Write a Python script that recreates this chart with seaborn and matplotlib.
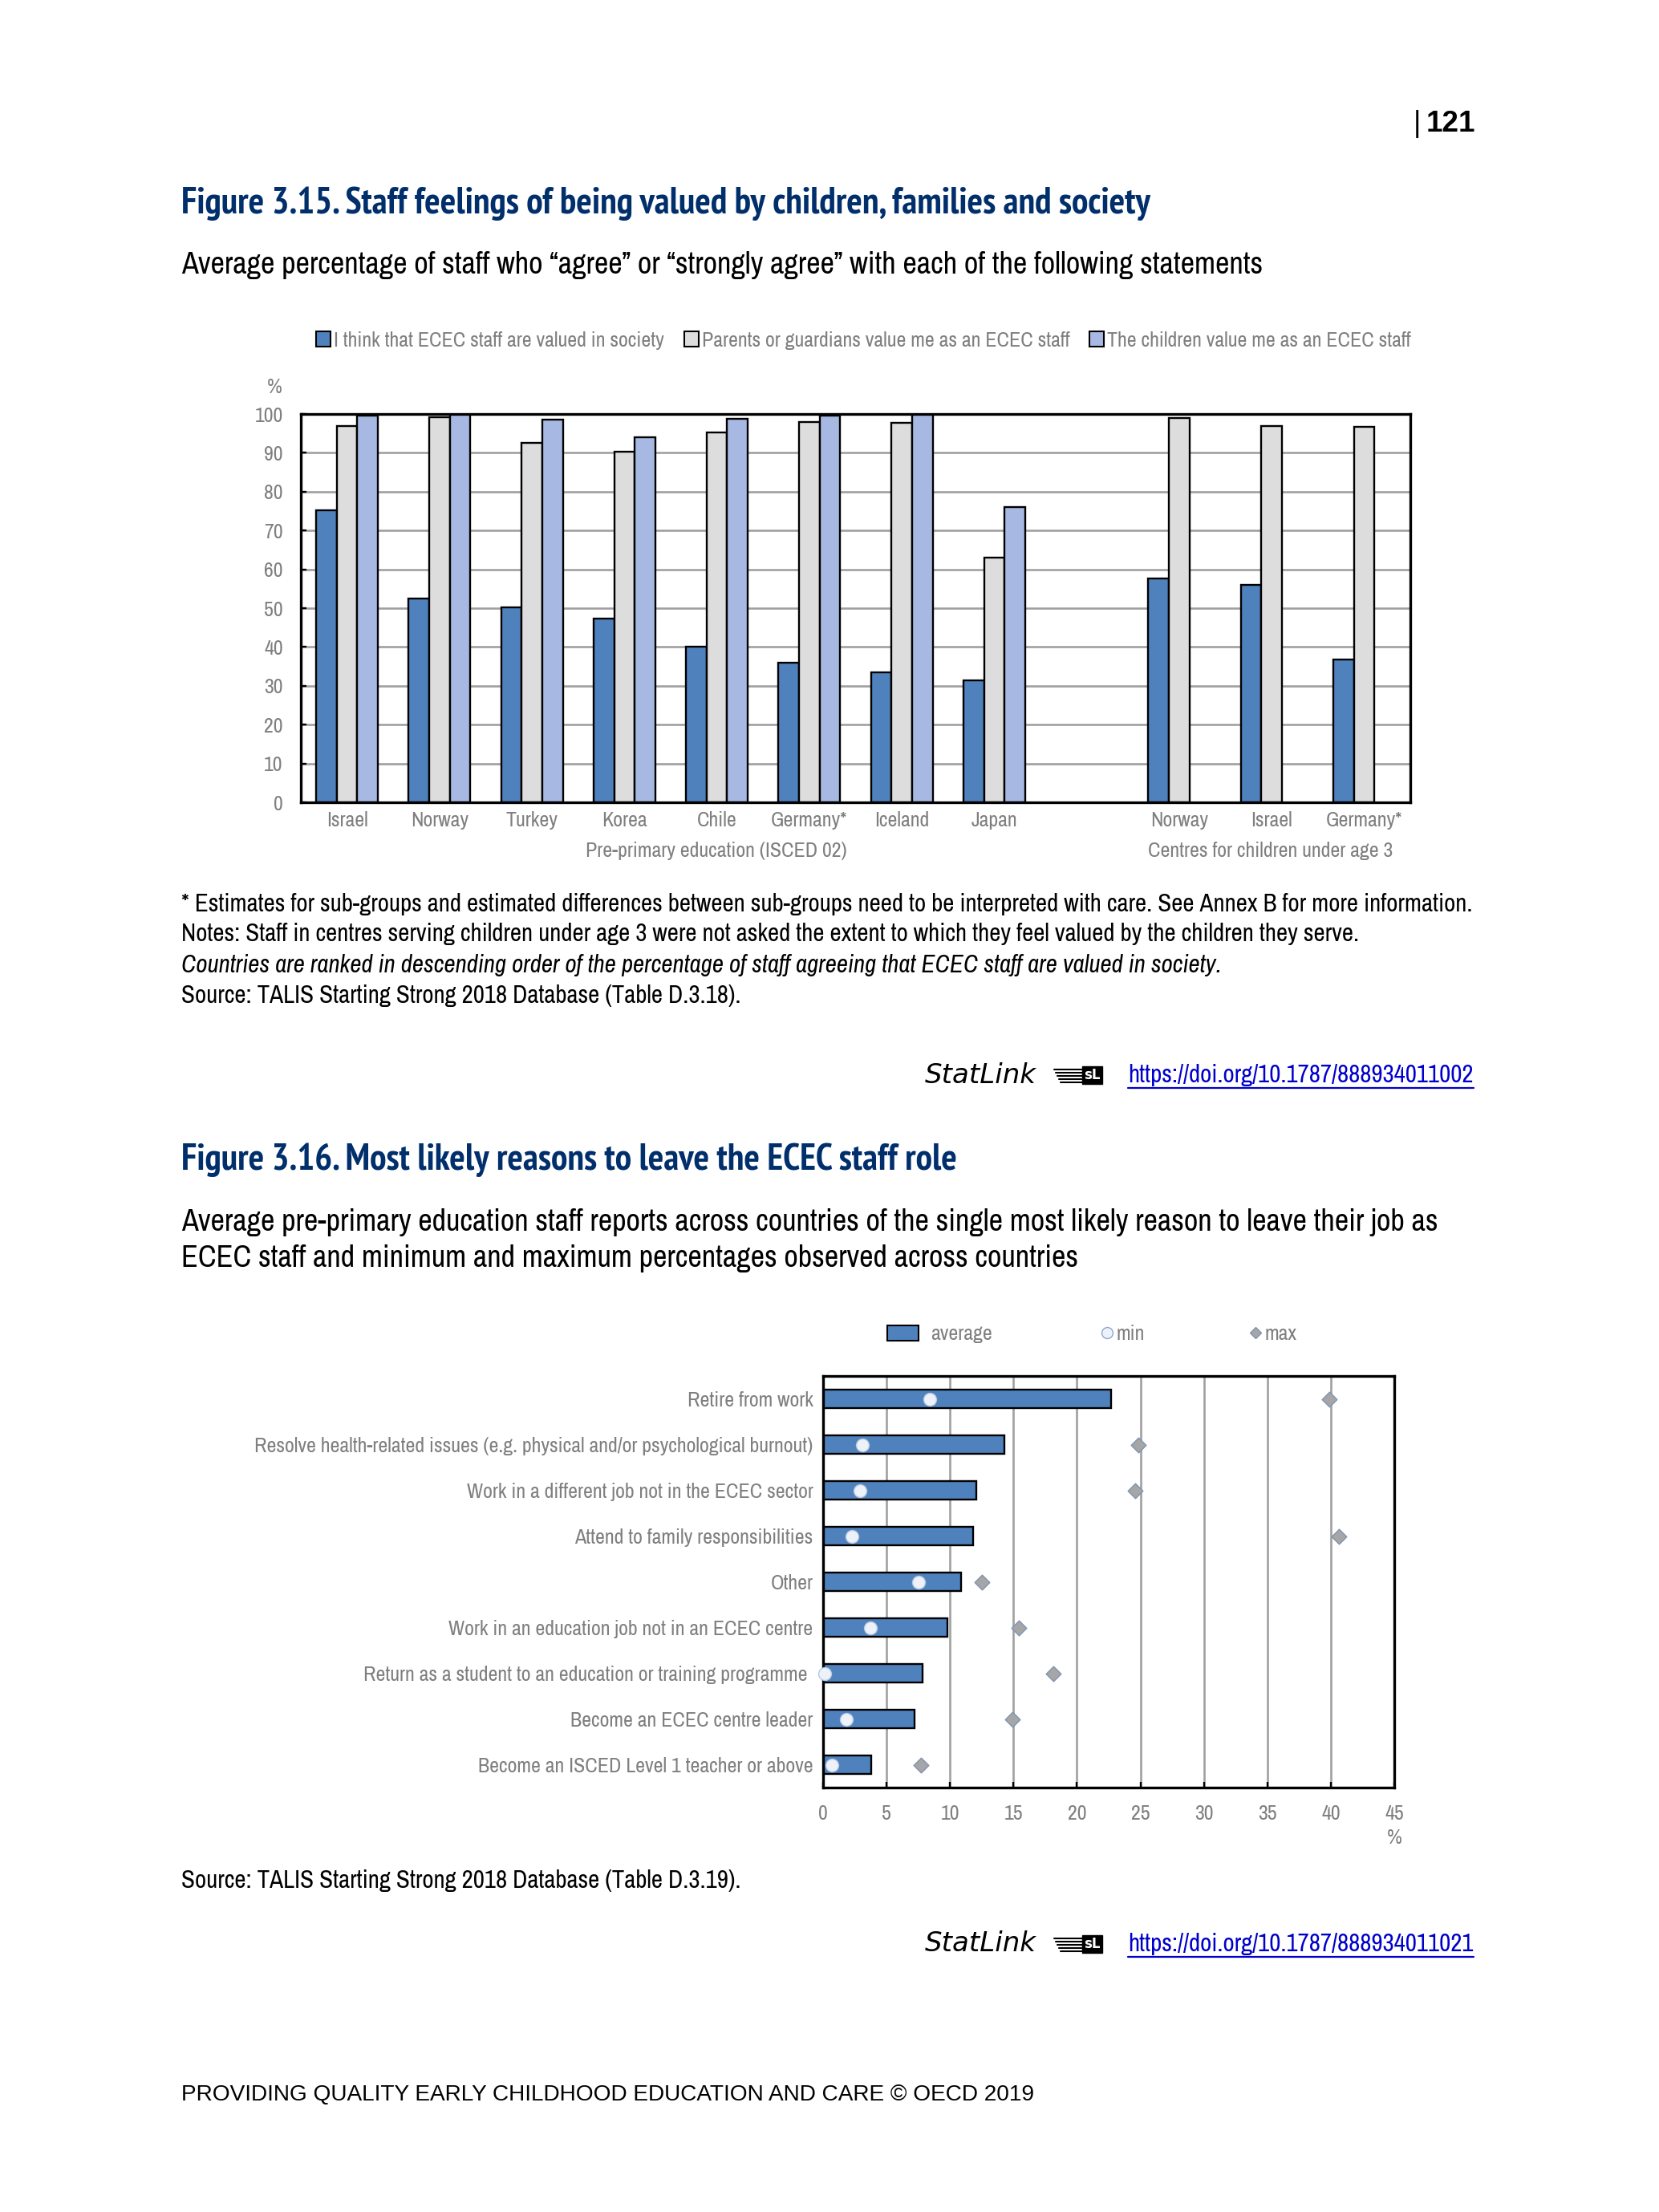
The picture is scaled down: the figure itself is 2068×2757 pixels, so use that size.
import pandas as pd
import matplotlib.pyplot as plt
import seaborn as sns
from matplotlib.lines import Line2D
from matplotlib.patches import Patch

W, H = 2068, 2757

# figure 3.15
levels = ["pre"] * 8 + ["gap"] + ["u3"] * 3
countries = ["Israel", "Norway", "Turkey", "Korea", "Chile", "Germany*", "Iceland", "Japan",
             "", "Norway", "Israel", "Germany*"]
society = [75.2, 52.4, 50.3, 47.3, 40.0, 36.0, 33.5, 31.5, None, 57.7, 56.0, 36.7]
parents = [97.0, 99.2, 92.6, 90.3, 95.2, 98.0, 97.7, 63.0, None, 99.0, 97.0, 96.7]
children = [99.5, 100.0, 98.5, 94.0, 98.8, 99.5, 99.9, 76.0, None, None, None, None]
series_names = ["I think that ECEC staff are valued in society",
                "Parents or guardians value me as an ECEC staff",
                "The children value me as an ECEC staff"]
bar_colors = ["#4F81BD", "#DDDDDD", "#A7B9E2"]
y_ticks = list(range(0, 101, 10))

# figure 3.16
reasons = ["Retire from work",
           "Resolve health-related issues (e.g. physical and/or psychological burnout)",
           "Work in a different job not in the ECEC sector",
           "Attend to family responsibilities",
           "Other",
           "Work in an education job not in an ECEC centre",
           "Return as a student to an education or training programme",
           "Become an ECEC centre leader",
           "Become an ISCED Level 1 teacher or above"]
average = [22.7, 14.3, 12.1, 11.85, 10.85, 9.8, 7.85, 7.2, 3.8]
minimum = [8.4, 3.1, 2.9, 2.3, 7.5, 3.75, 0.1, 1.85, 0.7]
maximum = [39.9, 24.85, 24.6, 40.65, 12.5, 15.45, 18.15, 14.9, 7.7]
x_ticks = list(range(0, 46, 5))

sns.set_theme(style="white")
NARROW = ["Archivo Narrow", "PT Sans Narrow", "Liberation Sans"]
BOLD_NARROW = ["PT Sans Narrow", "Liberation Sans"]
plt.rcParams["font.family"] = NARROW
GREY = "#7F7F7F"
GRID = "#A0A0A0"
NAVY = "#002F6C"
LABEL = 18.7
NOTE = 22.3
LEAD = 27.5
HEAD = 33


def px_axes(x0, y0, x1, y1):
    return fig.add_axes([x0 / W, 1 - y1 / H, (x1 - x0) / W, (y1 - y0) / H])


def txt(x, y, s, size, color="black", ha="left", **kw):
    return fig.text(x / W, 1 - (y + 2) / H, s, fontsize=size, color=color, ha=ha, va="center", **kw)


def link(x, y, s):
    t = txt(x, y, s, NOTE, color="#0000CC")
    box = t.get_window_extent(fig.canvas.get_renderer())
    fig.add_artist(Line2D([box.x0 / W, box.x1 / W], [1 - (y + 18) / H] * 2, color="#0000CC", lw=1.6))


def statlink(y):
    txt(1153, y, "StatLink", 24.5, family="DejaVu Sans", style="italic")
    for i, dy in enumerate([-5, -1, 3, 7, 11]):
        fig.add_artist(Line2D([(1314 + i * 2) / W, 1350 / W], [1 - (y + dy) / H] * 2, color="black", lw=1.5))
    txt(1351, y, "sL", 12, color="white", family="DejaVu Sans", weight="bold",
        bbox=dict(facecolor="black", edgecolor="black", pad=1.5))


def style_axes(ax):
    for s in ax.spines.values():
        s.set_visible(True)
        s.set_color("black")
        s.set_linewidth(2.4)
    ax.set_axisbelow(True)
    ax.set_xlabel("")
    ax.set_ylabel("")


fig = plt.figure(figsize=(W / 100, H / 100), dpi=100, facecolor="white")

txt(1762, 153, "|", 26, family="Liberation Sans")
txt(1839, 153, "121", 26.5, ha="right", family="Liberation Sans", weight="bold")
txt(226, 252, "Figure 3.15. Staff feelings of being valued by children, families and society", HEAD,
    color=NAVY, weight="bold", family=BOLD_NARROW)
txt(226, 329, "Average percentage of staff who “agree” or “strongly agree” with each of the following statements", LEAD)

# top chart
df1 = pd.DataFrame({"slot": [a + c for a, c in zip(levels, countries)],
                    series_names[0]: society, series_names[1]: parents, series_names[2]: children})
long1 = df1.melt(id_vars="slot", var_name="series", value_name="pct")
ax1 = px_axes(375, 516, 1758, 1000)
sns.barplot(data=long1, x="slot", y="pct", hue="series", hue_order=series_names, order=df1["slot"],
            palette=bar_colors, width=0.67, saturation=1, edgecolor="black", linewidth=1.7,
            legend=False, ax=ax1)
ax1.set_ylim(0, 100)
ax1.set_xlim(-0.5, 11.5)
ax1.set_yticks(y_ticks)
ax1.yaxis.grid(True, color=GRID, lw=1.9)
ax1.xaxis.grid(False)
ax1.set_xticks(range(len(countries)), countries)
ax1.tick_params(axis="x", length=0, pad=8, labelsize=LABEL, labelcolor=GREY)
ax1.tick_params(axis="y", left=True, direction="in", length=5, width=1.7, pad=16, labelsize=LABEL,
                labelcolor=GREY, color="black")
style_axes(ax1)
ax1.legend(handles=[Patch(facecolor=c, edgecolor="black", lw=1.5, label=n) for c, n in zip(bar_colors, series_names)],
           loc="center left", bbox_to_anchor=((394 - 375) / 1383, (516 - 424) / 484 + 1), ncol=3, frameon=False,
           fontsize=LABEL, labelcolor=GREY, handlelength=0.7, handleheight=0.7, handletextpad=0.15,
           columnspacing=0.95, borderaxespad=0, borderpad=0)
txt(352, 480, "%", LABEL, color=GREY, ha="right")
txt(893, 1058, "Pre-primary education (ISCED 02)", LABEL, color=GREY, ha="center")
txt(1584, 1058, "Centres for children under age 3", LABEL, color=GREY, ha="center")

txt(226, 1125, "* Estimates for sub-groups and estimated differences between sub-groups need to be interpreted with care. See Annex B for more information.", NOTE)
txt(226, 1162, "Notes: Staff in centres serving children under age 3 were not asked the extent to which they feel valued by the children they serve.", NOTE)
txt(226, 1201, "Countries are ranked in descending order of the percentage of staff agreeing that ECEC staff are valued in society.", NOTE, style="italic")
txt(226, 1239, "Source: TALIS Starting Strong 2018 Database (Table D.3.18).", NOTE)
statlink(1338)
link(1406, 1338, "https://doi.org/10.1787/888934011002")

txt(226, 1444, "Figure 3.16. Most likely reasons to leave the ECEC staff role", HEAD, color=NAVY, weight="bold",
    family=BOLD_NARROW)
txt(226, 1521, "Average pre-primary education staff reports across countries of the single most likely reason to leave their job as", LEAD)
txt(226, 1566, "ECEC staff and minimum and maximum percentages observed across countries", LEAD)

# bottom chart
df2 = pd.DataFrame({"reason": reasons, "average": average, "min": minimum, "max": maximum})
ax2 = px_axes(1026, 1715, 1738, 2228)
sns.barplot(data=df2, y="reason", x="average", order=reasons, color="#4F81BD", width=0.4, saturation=1,
            edgecolor="black", linewidth=1.7, ax=ax2)
sns.stripplot(data=df2, y="reason", x="min", order=reasons, jitter=False, marker="o", size=11.5,
              color="#EDF2FA", edgecolor="#B8C8E0", linewidth=1, zorder=5, ax=ax2, clip_on=False)
sns.stripplot(data=df2, y="reason", x="max", order=reasons, jitter=False, marker="D", size=9.5,
              color="#A6A6A6", edgecolor="#7F93B2", linewidth=1, zorder=5, ax=ax2)
ax2.set_xlim(0, 45)
ax2.set_ylim(8.5, -0.5)
ax2.set_xticks(x_ticks)
ax2.xaxis.grid(True, color=GRID, lw=1.9)
ax2.yaxis.grid(False)
ax2.tick_params(axis="y", length=0, pad=9, labelsize=LABEL, labelcolor=GREY)
ax2.tick_params(axis="x", bottom=True, direction="in", length=5, width=1.7, pad=15, labelsize=LABEL,
                labelcolor=GREY, color="black")
ax2.yaxis.get_major_ticks()[6].set_pad(14)
style_axes(ax2)
txt(1738, 2289, "%", LABEL, color=GREY, ha="center")


def key(x_px, handle, label, handlelength, pad):
    return fig.legend(handles=[handle], labels=[label], loc="center left", bbox_to_anchor=(x_px / W, 1 - 1663 / H),
                      frameon=False, fontsize=LABEL, labelcolor=GREY, handlelength=handlelength, handletextpad=pad,
                      borderaxespad=0, borderpad=0)


key(1106, Patch(facecolor="#4F81BD", edgecolor="black", lw=1.5), "average", 1.5, 0.6)
key(1375, Line2D([], [], ls="", marker="o", ms=10, mfc="#EDF2FA", mec="#8EA6CC", mew=1), "min", 0.4, 0.25)
key(1560, Line2D([], [], ls="", marker="D", ms=7.5, mfc="#A6A6A6", mec="#7F93B2", mew=1), "max", 0.4, 0.25)

txt(226, 2342, "Source: TALIS Starting Strong 2018 Database (Table D.3.19).", NOTE)
statlink(2421)
link(1406, 2421, "https://doi.org/10.1787/888934011021")
txt(226, 2609, "PROVIDING QUALITY EARLY CHILDHOOD EDUCATION AND CARE © OECD 2019", 20.2, family="Liberation Sans")

fig.savefig("out.png", dpi=100)
